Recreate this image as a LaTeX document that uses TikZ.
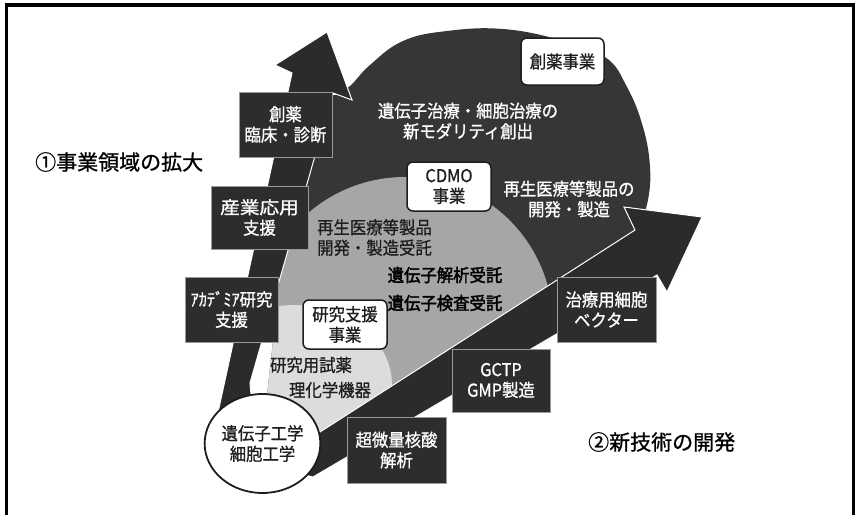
\documentclass[tikz,border=0pt]{standalone}
\usepackage{fontspec}
\usetikzlibrary{shapes.geometric}
\setmainfont{Noto Sans CJK JP}[FakeBold=0.9]
\newfontfamily\jpbody{Noto Sans CJK JP}[FakeBold=0.9, FakeStretch=0.93]
\newfontfamily\jpheavy{Noto Sans CJK JP}[FakeBold=2.2, FakeStretch=0.93]
\definecolor{arrowc}{HTML}{2B2B2B}
\definecolor{discc}{HTML}{363636}
\definecolor{midg}{HTML}{A6A6A6}
\definecolor{lightg}{HTML}{DCDCDC}
\definecolor{boxc}{HTML}{2D2D2D}
\definecolor{boxb}{HTML}{9A9A9A}
\definecolor{inkc}{HTML}{1E1E1E}
\tikzset{
  bodyfont/.style={font=\jpbody\fontsize{17.6}{20.5}\selectfont},
  darkbox/.style={bodyfont, draw=boxb, line width=0.8pt, fill=boxc, text=white, align=center, inner sep=0pt},
  whitebox/.style={bodyfont, draw=inkc, line width=1.5pt, fill=white, text=inkc, rounded corners=6pt, align=center, inner sep=0pt},
  wtext/.style={bodyfont, text=white, align=center, inner sep=0pt},
  btext/.style={bodyfont, text=inkc, align=left, inner sep=0pt},
  heavytext/.style={font=\jpheavy\fontsize{17.6}{20.5}\selectfont, text=black, inner sep=0pt},
  biglabel/.style={font=\fontsize{21}{24}\selectfont, text=black, inner sep=0pt},
  arrowshape/.style={fill=arrowc, draw=white, line width=1pt, line join=miter}
}
\begin{document}
\begin{tikzpicture}[x=1pt,y=-1pt]
\useasboundingbox (0,0) rectangle (855,515);

% fan with grey zones
\begin{scope}
  \clip (262,440) -- (300,100) -- plot[smooth, tension=0.7] coordinates {(335,95) (350,86) (370,65) (403,41) (447,31) (503,29) (560,40) (605,57) (627,87) (643,127) (650,167) (648,200) (640,225)} -- (640,250) -- (330,450) -- cycle;
  \fill[discc] (0,0) rectangle (855,515);
  \fill[midg] (405,325) circle[radius=148];
  \fill[lightg] (295,385) ellipse[x radius=97, y radius=80];
\end{scope}

% arrows
\path[arrowshape] (212,440) -- (292,73) -- (275,65) -- (327,32) -- (352,100) -- (333,93) -- (250,383) -- (255,440) -- cycle;
\path[arrowshape] (285,470) -- (313,477) -- (657,275) -- (667,292) -- (702,217) -- (624,207) -- (635,230) -- (320,432) -- (290,450) -- cycle;

% texts on the dark disc
\node[wtext] (t1) at (468,121) {遺伝子治療・細胞治療の\\新モダリティ創出};
\node[wtext] (t2) at (569,199) {再生医療等製品の\\開発・製造};

% texts on the grey zones
\node[btext, anchor=west] (t3) at (317,237.5) {再生医療等製品\\開発・製造受託};
\node[heavytext] (t4) at (445,275) {遺伝子解析受託};
\node[heavytext] (t5) at (445,303) {遺伝子検査受託};
\node[btext] (t6) at (311,365) {研究用試薬};
\node[btext] (t7) at (330,390) {理化学機器};

% white business boxes
\node[whitebox, minimum width=83pt, minimum height=47pt] (w1) at (562.5,61.5) {創薬事業};
\node[whitebox, minimum width=84pt, minimum height=49pt] (w2) at (449,186.5) {CDMO\\事業};
\node[whitebox, minimum width=84pt, minimum height=49pt] (w3) at (345,324.5) {研究支援\\事業};

% dark boxes
\node[darkbox, minimum width=93pt, minimum height=65pt] (b1) at (285.5,124.5) {創薬\\臨床・診断};
\node[darkbox, minimum width=97pt, minimum height=63pt] (b2) at (259.5,217.5) {\scalebox{1.2}[1]{産業応用}\\支援};
\node[darkbox, minimum width=93pt, minimum height=65pt] (b3) at (231.5,309.5) {ｱｶﾃﾞﾐｱ研究\\支援};
\node[darkbox, minimum width=99pt, minimum height=65pt] (b4) at (606.5,309.5) {治療用細胞\\ベクター};
\node[darkbox, minimum width=98pt, minimum height=63pt] (b5) at (501,380.5) {GCTP\\GMP製造};
\node[darkbox, minimum width=99pt, minimum height=66pt] (b6) at (396.5,450) {超微量核酸\\解析};

% origin circle
\node[bodyfont, draw=inkc, line width=1.8pt, fill=white, text=inkc, ellipse, minimum width=111pt, minimum height=99pt, inner sep=0pt, align=center] (c0) at (262.5,443.5) {遺伝子工学\\細胞工学};

% axis labels
\node[biglabel, anchor=west] (l1) at (35,162) {①事業領域の拡大};
\node[biglabel, anchor=west] (l2) at (588,442) {②新技術の開発};

% frame
\draw[line width=3.4pt, line join=miter] (6.6,515) -- (6.6,5) -- (853,5);
\draw[line width=2.5pt] (853.7,3.3) -- (853.7,515);
\end{tikzpicture}
\end{document}
